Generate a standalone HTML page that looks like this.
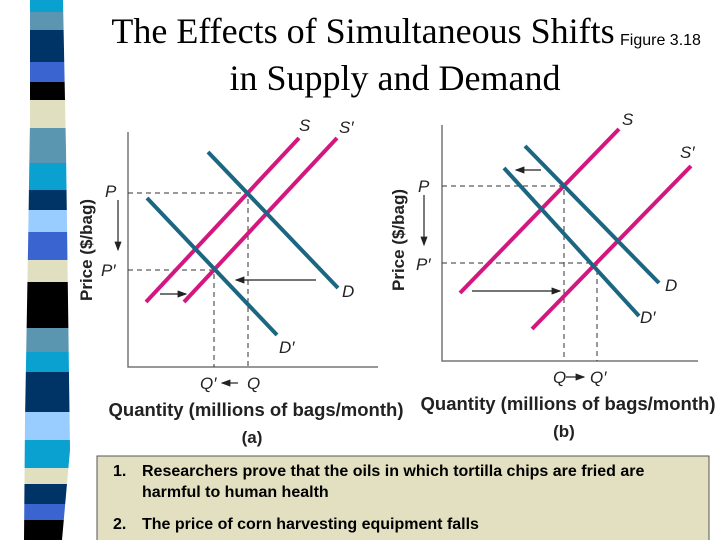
<!DOCTYPE html>
<html><head><meta charset="utf-8"><style>
body{margin:0;width:720px;height:540px;background:#fff;overflow:hidden;position:relative;font-family:"Liberation Sans",sans-serif}
svg{position:absolute;left:0;top:0}
</style></head><body>
<svg id="s" width="720" height="540" viewBox="0 0 720 540">
<defs><clipPath id="band"><polygon points="30,0 63,0 66,150 68,300 70,450 62,540 24,540 25,420 28,250 30,120"/></clipPath>
<marker id="ah" markerWidth="8" markerHeight="6" refX="7" refY="3" orient="auto"><path d="M0,0 L8,3 L0,6 Z" fill="#222"/></marker></defs>
<g id="stripes" clip-path="url(#band)"></g>
<text x="363" y="43" font-family="Liberation Serif,serif" font-size="36" text-anchor="middle">The Effects of Simultaneous Shifts</text>
<text x="395" y="90" font-family="Liberation Serif,serif" font-size="36" text-anchor="middle">in Supply and Demand</text>
<text x="620" y="45" font-size="16">Figure 3.18</text>
<g id="ga"></g>
<g id="gb"></g>
<rect x="97" y="456" width="612" height="90" fill="#e2e0c0" stroke="#555" stroke-width="1"/>
<g font-size="16" font-weight="bold" fill="#000">
<text x="113" y="476">1.</text>
<text x="142" y="476">Researchers prove that the oils in which tortilla chips are fried are</text>
<text x="142" y="497">harmful to human health</text>
<text x="113" y="529">2.</text>
<text x="142" y="529">The price of corn harvesting equipment falls</text>
</g>
</svg>
<script>
const stripeBreaks=[0,12,30,62,82,100,128,163,190,210,232,260,282,328,352,372,412,440,468,484,504,520,540];
const stripeColors=["#0aa0d0","#5a96b0","#003366","#3a64d0","#000","#e0e0c0","#5a96b0","#0aa0d0","#003366","#99ccff","#3a64d0","#e0e0c0","#000","#5a96b0","#0aa0d0","#003366","#99ccff","#0aa0d0","#e0e0c0","#003366","#3a64d0","#000"];
const aSupply=[[146,302,299,138],[184,302,337,138]];
const aDemand=[[208,152,338,288],[147,198,277,335]];
const aPrices=[193,270];
const aQuantities=[248,214];
const bSupply=[[460,293,619,129],[532,329,691,166]];
const bDemand=[[525,146,659,283],[504,168,639,316]];
const bPrices=[186,263];
const bQuantities=[564,597];
const NS="http://www.w3.org/2000/svg";
function mk(p,t,a,txt){const e=document.createElementNS(NS,t);for(const k in a)e.setAttribute(k,a[k]);if(txt)e.textContent=txt;p.appendChild(e);return e;}
const st=document.getElementById('stripes');
for(let i=0;i<stripeColors.length;i++){const r=mk(st,'rect',{x:0,y:stripeBreaks[i],width:100,height:stripeBreaks[i+1]-stripeBreaks[i],fill:stripeColors[i]});

}
function chart(g,ax,S,D,P,Q,o){
 const x0=ax[0],yt=ax[1],yb=ax[2],xr=ax[3];
 mk(g,'polyline',{points:`${x0},${yt} ${x0},${yb} ${xr},${yb}`,fill:'none',stroke:'#777','stroke-width':1.5});
 const cross=[[P[0],Q[0]],[P[1],Q[1]]];
 cross.forEach(c=>{const l=mk(g,'polyline',{points:`${x0},${c[0]} ${c[1]},${c[0]} ${c[1]},${yb}`,fill:'none',stroke:'#333','stroke-width':1,'stroke-dasharray':'5,4'});
 
 });
 S.forEach(s=>{const l=mk(g,'line',{x1:s[0],y1:s[1],x2:s[2],y2:s[3],stroke:'#d4177f','stroke-width':4});
 
 });
 D.forEach(s=>{const l=mk(g,'line',{x1:s[0],y1:s[1],x2:s[2],y2:s[3],stroke:'#1b6680','stroke-width':4});
 
 });
 o.arrows.forEach(a=>{const l=mk(g,'line',{x1:a[0],y1:a[1],x2:a[2],y2:a[3],stroke:'#222','stroke-width':1.2,'marker-end':'url(#ah)'});
 
 });
 o.labels.forEach(t=>{const e=mk(g,'text',{x:t[0],y:t[1],'font-size':17,'font-style':'italic','text-anchor':t[3]||'start',fill:'#222'},t[2]);
 
 });
 const yl=mk(g,'text',{x:0,y:0,'font-size':17,'font-weight':'bold','text-anchor':'middle',fill:'#222',transform:`translate(${o.yl[0]},${o.yl[1]}) rotate(-90)`},'Price ($/bag)');
 
 
 const xl=mk(g,'text',{x:o.xl[0],y:o.xl[1],'font-size':18.5,'font-weight':'bold','text-anchor':'middle',fill:'#222'},'Quantity (millions of bags/month)');
 
 
 const pl=mk(g,'text',{x:o.xl[0]-4,y:o.xl[1]+27,'font-size':17,'font-weight':'bold','text-anchor':'middle',fill:'#222'},o.panel);
 
 
}
chart(document.getElementById('ga'),[128,132,367,378],aSupply,aDemand,aPrices,aQuantities,{
 arrows:[[316,280,236,280],[160,294,186,294],[118,200,118,250],[238,383,222,383]],
 labels:[[299,131,'S'],[339,133,"S′"],[342,297,'D'],[279,353,"D′"],[105,197,'P'],[101,276,"P′"],[200,389,"Q′"],[247,389,'Q']],
 yl:[92,250],xl:[256,416],panel:'(a)'});
chart(document.getElementById('gb'),[442,125,361,698],bSupply,bDemand,bPrices,bQuantities,{
 arrows:[[541,170,516,170],[472,291,560,291],[424,195,424,245],[566,377,584,377]],
 labels:[[622,125,'S'],[680,158,"S′"],[665,291,'D'],[640,323,"D′"],[418,192,'P'],[416,270,"P′"],[553,383,'Q'],[590,383,"Q′"]],
 yl:[404,240],xl:[568,410],panel:'(b)'});
</script>
</body></html>
